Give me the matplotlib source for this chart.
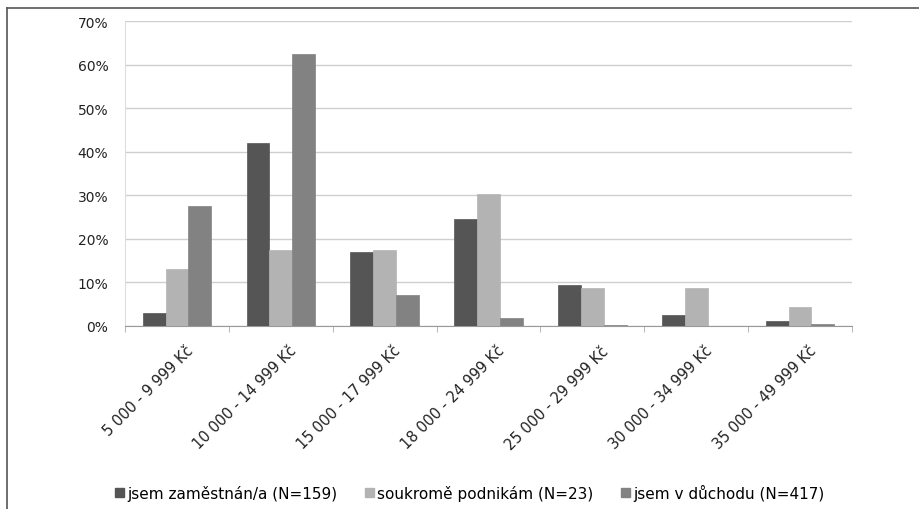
import numpy as np
import matplotlib
matplotlib.use('Agg')
import matplotlib.pyplot as plt
from matplotlib.lines import Line2D

categories = ['5 000 - 9 999 Kč', '10 000 - 14 999 Kč', '15 000 - 17 999 Kč',
              '18 000 - 24 999 Kč', '25 000 - 29 999 Kč', '30 000 - 34 999 Kč',
              '35 000 - 49 999 Kč']
employed = [3.0, 42.0, 16.9, 24.5, 9.3, 2.5, 1.2]
business = [13.1, 17.4, 17.4, 30.4, 8.7, 8.7, 4.3]
retired = [27.5, 62.5, 7.1, 1.9, 0.2, 0.0, 0.5]
series_names = ['jsem zaměstnán/a (N=159)', 'soukromě podnikám (N=23)',
                'jsem v důchodu (N=417)']
colors = ['#555555', '#b3b3b3', '#828282']

fig = plt.figure(figsize=(9.2, 5.1), dpi=100)
ax = fig.add_axes([125 / 920, 1 - 327 / 510, 727 / 920, 305 / 510])

x = np.arange(len(categories))
w = 0.22
for i, (vals, c, name) in enumerate(zip([employed, business, retired], colors, series_names)):
    ax.bar(x + (i - 1) * w, vals, width=w, color=c, label=name, zorder=3,
           edgecolor=c, linewidth=0.5)

ax.set_xlim(-0.5, len(categories) - 0.5)
ax.set_ylim(0, 70)
ax.set_yticks(range(0, 71, 10))
ax.set_yticklabels([f'{v}%' for v in range(0, 71, 10)], fontsize=10, color='#222222')
ax.yaxis.grid(True, color='#cfcfcf', linewidth=1, zorder=0)
ax.tick_params(axis='y', length=0, pad=12)

ax.set_xticks(x + 0.08)
ax.set_xticklabels(categories, rotation=45, ha='right', rotation_mode='anchor',
                   fontsize=10.5, color='#222222')
ax.set_xticks(np.arange(-0.5, len(categories), 1), minor=True)
ax.tick_params(axis='x', which='major', length=0, pad=12)
ax.tick_params(axis='x', which='minor', length=4, color='#aaaaaa')

for s in ['top', 'right']:
    ax.spines[s].set_visible(False)
ax.spines['left'].set_color('#dddddd')
ax.spines['bottom'].set_color('#999999')

# outer frame lines of the screenshot
fig.add_artist(Line2D([7 / 920, 7 / 920], [0, 1 - 9 / 510], color='#555555', lw=1.2))
fig.add_artist(Line2D([7 / 920, 1], [1 - 9 / 510, 1 - 9 / 510], color='#555555', lw=1.2))

handles = [plt.Rectangle((0, 0), 1, 1, color=c) for c in colors]
fig.legend(handles, series_names, loc='center', bbox_to_anchor=(470 / 920, 1 - 493 / 510),
           ncol=3, frameon=False, fontsize=11, handlelength=0.55, handleheight=0.55,
           handletextpad=0.25, columnspacing=1.8)

fig.savefig('out.png', dpi=100)
